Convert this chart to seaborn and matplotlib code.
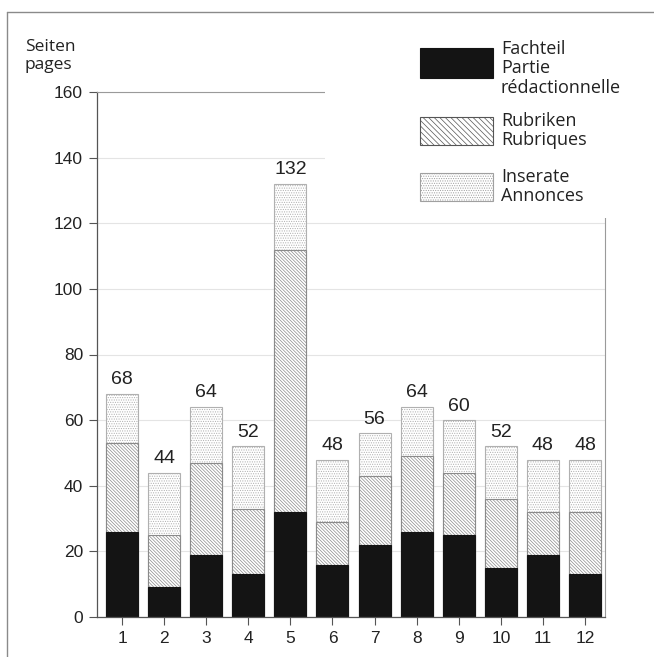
import matplotlib
matplotlib.use("Agg")
import matplotlib.pyplot as plt
from matplotlib.patches import Rectangle
from matplotlib.lines import Line2D
import seaborn as sns
import pandas as pd

# Seiten pro Ausgabe (Heft 1..12)
issues = ['1', '2', '3', '4', '5', '6', '7', '8', '9', '10', '11', '12']
fachteil = [26, 9, 19, 13, 32, 16, 22, 26, 25, 15, 19, 13]
rubriken = [27, 16, 28, 20, 80, 13, 21, 23, 19, 21, 13, 19]
inserate = [15, 19, 17, 19, 20, 19, 13, 15, 16, 16, 16, 16]

df = pd.DataFrame({'issue': issues, 'fachteil': fachteil,
                   'rubriken': rubriken, 'inserate': inserate})
df['lower2'] = df['fachteil'] + df['rubriken']
df['total'] = df['lower2'] + df['inserate']

sns.set_theme(style="white")
plt.rcParams['font.family'] = ['Liberation Sans', 'DejaVu Sans']
plt.rcParams['hatch.linewidth'] = 0.5

fig = plt.figure(figsize=(6.54, 6.57), dpi=100)
ax = fig.add_axes([97 / 654, 1 - 617 / 657, (605 - 97) / 654, (617 - 92) / 657])

bw = 0.76
# stacked layers drawn from the top down, each opaque
sns.barplot(data=df, x='issue', y='total', order=issues, color='white',
            saturation=1, hatch='.......', edgecolor='#b0b0b0', linewidth=0.8,
            width=bw, errorbar=None, ax=ax)
sns.barplot(data=df, x='issue', y='lower2', order=issues, color='white',
            saturation=1, hatch='\\' * 10, edgecolor='#8a8a8a', linewidth=0.8,
            width=bw, errorbar=None, ax=ax)
sns.barplot(data=df, x='issue', y='fachteil', order=issues, color='#141414',
            saturation=1, edgecolor='#141414', linewidth=0.8,
            width=bw, errorbar=None, ax=ax)

ax.bar_label(ax.containers[0], labels=[str(v) for v in df['total']],
             padding=4, fontsize=14, color='#222222')

ax.set_ylim(0, 160)
ax.set_xlim(-0.594, 11.475)
ax.set_yticks(range(0, 161, 20))
ax.set_xlabel('')
ax.set_ylabel('')
ax.yaxis.grid(True, color='#e4e4e4', linewidth=0.8)
ax.set_axisbelow(True)
ax.tick_params(axis='both', direction='out', length=6, width=0.8,
               color='#555555', labelsize=12.5, labelcolor='#222222',
               left=True, bottom=True, pad=4)
for s in ['left', 'bottom']:
    ax.spines[s].set_color('#555555')
    ax.spines[s].set_linewidth(0.9)
for s in ['top', 'right']:
    ax.spines[s].set_color('#9a9a9a')
    ax.spines[s].set_linewidth(0.8)

fig.text(25 / 654, 1 - 56 / 657, 'Seiten\npages', fontsize=12.5,
         family=['Open Sans', 'DejaVu Sans'], color='#222222',
         va='center', ha='left', linespacing=1.15)

# outer frame
fig.add_artist(Line2D([7 / 654, 1], [1 - 12 / 657] * 2, color='#8a8a8a', lw=1))
fig.add_artist(Line2D([7 / 654] * 2, [0, 1 - 12 / 657], color='#8a8a8a', lw=1))

# legend area
def px(x, y):
    return x / 654, 1 - y / 657

fig.add_artist(Rectangle(px(325, 218), (650 - 325) / 654, (218 - 30) / 657,
                         transform=fig.transFigure, facecolor='white',
                         edgecolor='none', zorder=3))
entries = [
    (48, 78, '#141414', '#141414', None, 'Fachteil\nPartie\nrédactionnelle', 44),
    (117, 145, 'white', '#555555', '\\' * 6, 'Rubriken\nRubriques', 116),
    (173, 201, 'white', '#a0a0a0', '.......', 'Inserate\nAnnonces', 172),
]
for y0, y1, fc, ec, hatch, label, ty in entries:
    fig.add_artist(Rectangle(px(420, y1), 73 / 654, (y1 - y0) / 657,
                             transform=fig.transFigure, facecolor=fc,
                             edgecolor=ec, hatch=hatch, lw=0.8, zorder=4))
    fig.text(*px(501, ty - 4), label, fontsize=13, va='top', ha='left',
             family=['Open Sans', 'DejaVu Sans'], color='#222222',
             linespacing=1.1, zorder=5)

fig.savefig('out.png', dpi=100)
